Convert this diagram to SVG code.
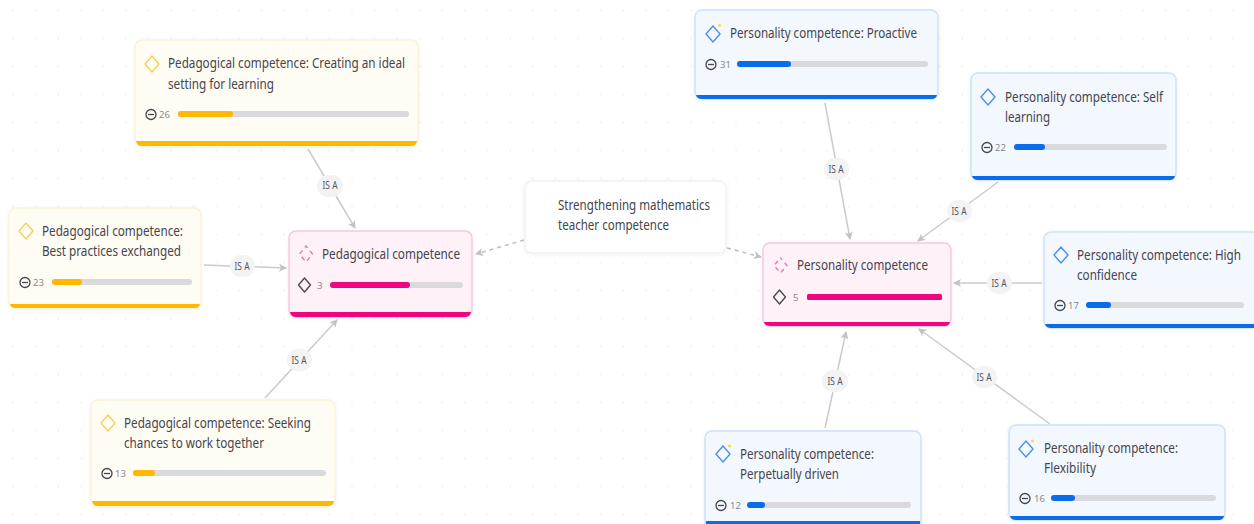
<svg xmlns="http://www.w3.org/2000/svg" width="1254" height="524" viewBox="0 0 1254 524">
<style>
text{font-family:"Noto Sans","Open Sans","Liberation Sans",sans-serif;fill:#45454d}
.t{font-size:14px}
.n{font-size:9.5px;fill:#8a8a90}
.l{font-size:10px;text-anchor:middle;fill:#55555c}
.y .c{fill:#fffcf4;stroke:#fdf2d6}.y .b{fill:#ffb800}.y .i{stroke:#f5cf55}
.u .c{fill:#f3f7fe;stroke:#d0e1f8}.u .b{fill:#0a6ce8}.u .i{stroke:#4a8ee6}
.p .c{fill:#fef1f8;stroke:#fac6df}.p .b{fill:#ee0580}.p .i{stroke:#ec6fb0;stroke-dasharray:4.500 3.800;stroke-dashoffset:2}
.c{stroke-width:1.500}
.i{fill:none;stroke-width:1.300;stroke-linejoin:round}
.m{fill:none;stroke:#45454d;stroke-width:1.300;stroke-linejoin:round}
.tr{fill:#dadade}
.e{stroke:#cbcbce;stroke-width:1.500;fill:none;marker-end:url(#a)}
.d{stroke:#bcbcc1;stroke-width:1.500;fill:none;stroke-dasharray:4 4;marker-end:url(#a)}
.lb{fill:#f3f3f4}
.s{fill:#f7df50}
</style>
<defs>
<pattern id="g" x="2" y="10" width="22.6" height="28" patternUnits="userSpaceOnUse"><circle cx="11" cy="0.500" r="0.900" fill="#eeeef0"/><circle cx="11" cy="28.500" r="0.900" fill="#eeeef0"/></pattern>
<marker id="a" markerWidth="9" markerHeight="9" refX="7" refY="4" orient="auto" markerUnits="userSpaceOnUse"><path d="M0 0L8 4L0 8L2 4Z" fill="#c2c2c6"/></marker>
<filter id="sh" x="-10%" y="-10%" width="120%" height="125%"><feDropShadow dx="0" dy="1" stdDeviation="2" flood-color="#8a8a9a" flood-opacity="0.120"/></filter>
</defs>
<rect width="1254" height="524" fill="#ffffff"/>
<rect width="1254" height="524" fill="url(#g)"/>
<g id="connectors">
<path class="e" d="M308 149L355 228"/>
<path class="e" d="M204 265L286 268"/>
<path class="e" d="M265 398L337 320"/>
<path class="d" d="M524 240L476 254"/>
<path class="d" d="M727 248L761 257"/>
<path class="e" d="M825 103L850 239"/>
<path class="e" d="M998 182L918 241"/>
<path class="e" d="M1042 283L954 283"/>
<path class="e" d="M825 428L846 332"/>
<path class="e" d="M1050 424L919 329"/>
<g id="edge-labels">
<rect class="lb" x="317" y="175" width="26" height="22" rx="11"/><text class="l" x="330" y="189" textLength="15" lengthAdjust="spacingAndGlyphs">IS A</text>
<rect class="lb" x="230" y="255" width="25" height="22" rx="11"/><text class="l" x="242" y="270" textLength="15" lengthAdjust="spacingAndGlyphs">IS A</text>
<rect class="lb" x="287" y="349" width="25" height="22" rx="11"/><text class="l" x="299" y="364" textLength="15" lengthAdjust="spacingAndGlyphs">IS A</text>
<rect class="lb" x="824" y="158" width="25" height="22" rx="11"/><text class="l" x="836" y="173" textLength="15" lengthAdjust="spacingAndGlyphs">IS A</text>
<rect class="lb" x="947" y="200" width="25" height="22" rx="11"/><text class="l" x="959" y="215" textLength="15" lengthAdjust="spacingAndGlyphs">IS A</text>
<rect class="lb" x="987" y="272" width="25" height="22" rx="11"/><text class="l" x="999" y="287" textLength="15" lengthAdjust="spacingAndGlyphs">IS A</text>
<rect class="lb" x="822" y="370" width="26" height="22" rx="11"/><text class="l" x="835" y="385" textLength="15" lengthAdjust="spacingAndGlyphs">IS A</text>
<rect class="lb" x="972" y="366" width="25" height="22" rx="11"/><text class="l" x="984" y="381" textLength="15" lengthAdjust="spacingAndGlyphs">IS A</text>
</g>
</g>
<g id="n-create" class="y">
<rect class="c" x="135" y="40" width="283" height="106" rx="7" filter="url(#sh)"/>
<path class="b" d="M136 141H417Q416 146 411 146H142Q137 146 136 141Z"/>
<path class="i" d="M152 56L159 64L152 72L145 64Z"/>
<text class="t" x="168" y="68" textLength="237" lengthAdjust="spacingAndGlyphs">Pedagogical competence: Creating an ideal</text>
<text class="t" x="168" y="89" textLength="106" lengthAdjust="spacingAndGlyphs">setting for learning</text>
<circle class="m" cx="151" cy="114.500" r="5"/><path class="m" d="M148 114.500H154"/>
<text class="n" x="159" y="118">26</text>
<rect class="tr" x="178" y="111" width="231" height="6" rx="3"/><rect class="b" x="178" y="111" width="55" height="6" rx="3"/>
</g>
<g id="n-best" class="y">
<rect class="c" x="9" y="208" width="192" height="100" rx="7" filter="url(#sh)"/>
<path class="b" d="M10 304H200Q199 308 195 308H15Q11 308 10 304Z"/>
<path class="i" d="M26 223L33 231L26 239L19 231Z"/>
<text class="t" x="42" y="236" textLength="141" lengthAdjust="spacingAndGlyphs">Pedagogical competence:</text>
<text class="t" x="42" y="256" textLength="139" lengthAdjust="spacingAndGlyphs">Best practices exchanged</text>
<circle class="m" cx="25" cy="282.500" r="5"/><path class="m" d="M22 282.500H28"/>
<text class="n" x="33" y="286">23</text>
<rect class="tr" x="52" y="279" width="140" height="6" rx="3"/><rect class="b" x="52" y="279" width="30" height="6" rx="3"/>
</g>
<g id="n-pedagogical" class="p">
<rect class="c" x="289" y="231" width="183" height="86" rx="7" filter="url(#sh)"/>
<path class="b" d="M290 312H471Q470 317 465 317H296Q291 317 290 312Z"/>
<path class="i" d="M306 246L312.500 254L306 262L299.500 254Z"/>
<text class="t" x="322" y="259" textLength="138" lengthAdjust="spacingAndGlyphs">Pedagogical competence</text>
<path class="m" d="M304.500 278L310.500 285L304.500 292L298.500 285Z"/>
<text class="n" x="317" y="289">3</text>
<rect class="tr" x="330" y="282" width="133" height="6" rx="3"/><rect class="b" x="330" y="282" width="80" height="6" rx="3"/>
</g>
<g id="n-seek" class="y">
<rect class="c" x="91" y="400" width="244" height="106" rx="7" filter="url(#sh)"/>
<path class="b" d="M92 501H334Q333 506 328 506H98Q93 506 92 501Z"/>
<path class="i" d="M108 415L115 423L108 431L101 423Z"/>
<text class="t" x="124" y="428" textLength="187" lengthAdjust="spacingAndGlyphs">Pedagogical competence: Seeking</text>
<text class="t" x="124" y="448" textLength="140" lengthAdjust="spacingAndGlyphs">chances to work together</text>
<circle class="m" cx="107" cy="473.500" r="5"/><path class="m" d="M104 473.500H110"/>
<text class="n" x="115" y="477">13</text>
<rect class="tr" x="133" y="470" width="193" height="6" rx="3"/><rect class="b" x="133" y="470" width="22" height="6" rx="3"/>
</g>
<g id="n-center">
<rect x="525" y="181" width="201" height="72" rx="7" fill="#ffffff" stroke="#f2f2f4" stroke-width="1.500" filter="url(#sh)"/>
<text class="t" x="558" y="210" textLength="152" lengthAdjust="spacingAndGlyphs">Strengthening mathematics</text>
<text class="t" x="558" y="230" textLength="111" lengthAdjust="spacingAndGlyphs">teacher competence</text>
</g>
<g id="n-personality" class="p">
<rect class="c" x="763" y="243" width="188" height="83" rx="7" filter="url(#sh)"/>
<path class="b" d="M764 322H950Q949 326 945 326H770Q765 326 764 322Z"/>
<path class="i" d="M780.500 258L787 265.500L780.500 273L774 265.500Z"/>
<text class="t" x="797" y="270" textLength="131" lengthAdjust="spacingAndGlyphs">Personality competence</text>
<path class="m" d="M779.500 290L785.500 297L779.500 304L773.500 297Z"/>
<text class="n" x="793" y="301">5</text>
<rect class="b" x="807" y="294" width="135" height="6" rx="1.500"/>
</g>
<g id="n-proactive" class="u">
<rect class="c" x="695" y="10" width="243" height="89" rx="7" filter="url(#sh)"/>
<path class="b" d="M696 95H937Q936 99 932 99H702Q697 99 696 95Z"/>
<path class="i" d="M713 26L720 34L713 42L706 34Z"/><circle class="s" cx="719.500" cy="25.500" r="1.600"/>
<text class="t" x="730" y="38" textLength="187" lengthAdjust="spacingAndGlyphs">Personality competence: Proactive</text>
<circle class="m" cx="711" cy="64.500" r="5"/><path class="m" d="M708 64.500H714"/>
<text class="n" x="720" y="68">31</text>
<rect class="tr" x="737" y="61" width="191" height="6" rx="3"/><rect class="b" x="737" y="61" width="54" height="6" rx="3"/>
</g>
<g id="n-self" class="u">
<rect class="c" x="971" y="73" width="205" height="107" rx="7" filter="url(#sh)"/>
<path class="b" d="M972 176H1175Q1174 180 1170 180H978Q973 180 972 176Z"/>
<path class="i" d="M988 89L995 97L988 105L981 97Z"/>
<text class="t" x="1005" y="102" textLength="158" lengthAdjust="spacingAndGlyphs">Personality competence: Self</text>
<text class="t" x="1005" y="122" textLength="45" lengthAdjust="spacingAndGlyphs">learning</text>
<circle class="m" cx="987" cy="147.500" r="5"/><path class="m" d="M984 147.500H990"/>
<text class="n" x="995" y="151">22</text>
<rect class="tr" x="1014" y="144" width="153" height="6" rx="3"/><rect class="b" x="1014" y="144" width="31" height="6" rx="3"/>
</g>
<g id="n-high" class="u">
<rect class="c" x="1044" y="232" width="216" height="96" rx="7" filter="url(#sh)"/>
<path class="b" d="M1045 324H1254V328H1051Q1046 328 1045 324Z"/>
<path class="i" d="M1061 247L1068 255L1061 263L1054 255Z"/>
<text class="t" transform="translate(1077 260) scale(.8 1)" x="0" y="0" textLength="205" lengthAdjust="spacingAndGlyphs">Personality competence: High</text>
<text class="t" x="1077" y="280" textLength="60" lengthAdjust="spacingAndGlyphs">confidence</text>
<circle class="m" cx="1060" cy="305.500" r="5"/><path class="m" d="M1057 305.500H1063"/>
<text class="n" x="1068" y="309">17</text>
<rect class="tr" x="1086" y="302" width="158" height="6" rx="3"/><rect class="b" x="1086" y="302" width="25" height="6" rx="3"/>
</g>
<g id="n-perpetual" class="u">
<rect class="c" x="705" y="431" width="216" height="100" rx="7" filter="url(#sh)"/>
<rect class="b" x="706" y="521" width="214" height="3"/>
<path class="i" d="M723 446L730 454L723 462L716 454Z"/><circle class="s" cx="729.500" cy="446" r="1.600"/>
<text class="t" x="740" y="459" textLength="134" lengthAdjust="spacingAndGlyphs">Personality competence:</text>
<text class="t" x="740" y="479" textLength="99" lengthAdjust="spacingAndGlyphs">Perpetually driven</text>
<circle class="m" cx="721" cy="505.500" r="5"/><path class="m" d="M718 505.500H724"/>
<text class="n" x="730" y="509">12</text>
<rect class="tr" x="747" y="502" width="164" height="6" rx="3"/><rect class="b" x="747" y="502" width="18" height="6" rx="3"/>
</g>
<g id="n-flex" class="u">
<rect class="c" x="1009" y="425" width="216" height="95" rx="7" filter="url(#sh)"/>
<path class="b" d="M1010 516H1224Q1223 520 1219 520H1016Q1011 520 1010 516Z"/>
<path class="i" d="M1026 441L1033 449L1026 457L1019 449Z"/><circle class="s" cx="1032.500" cy="441" r="1.600"/>
<text class="t" x="1044" y="453" textLength="134" lengthAdjust="spacingAndGlyphs">Personality competence:</text>
<text class="t" x="1044" y="473" textLength="52" lengthAdjust="spacingAndGlyphs">Flexibility</text>
<circle class="m" cx="1025" cy="498.500" r="5"/><path class="m" d="M1022 498.500H1028"/>
<text class="n" x="1034" y="502">16</text>
<rect class="tr" x="1051" y="495" width="165" height="6" rx="3"/><rect class="b" x="1051" y="495" width="24" height="6" rx="3"/>
</g>
</svg>
